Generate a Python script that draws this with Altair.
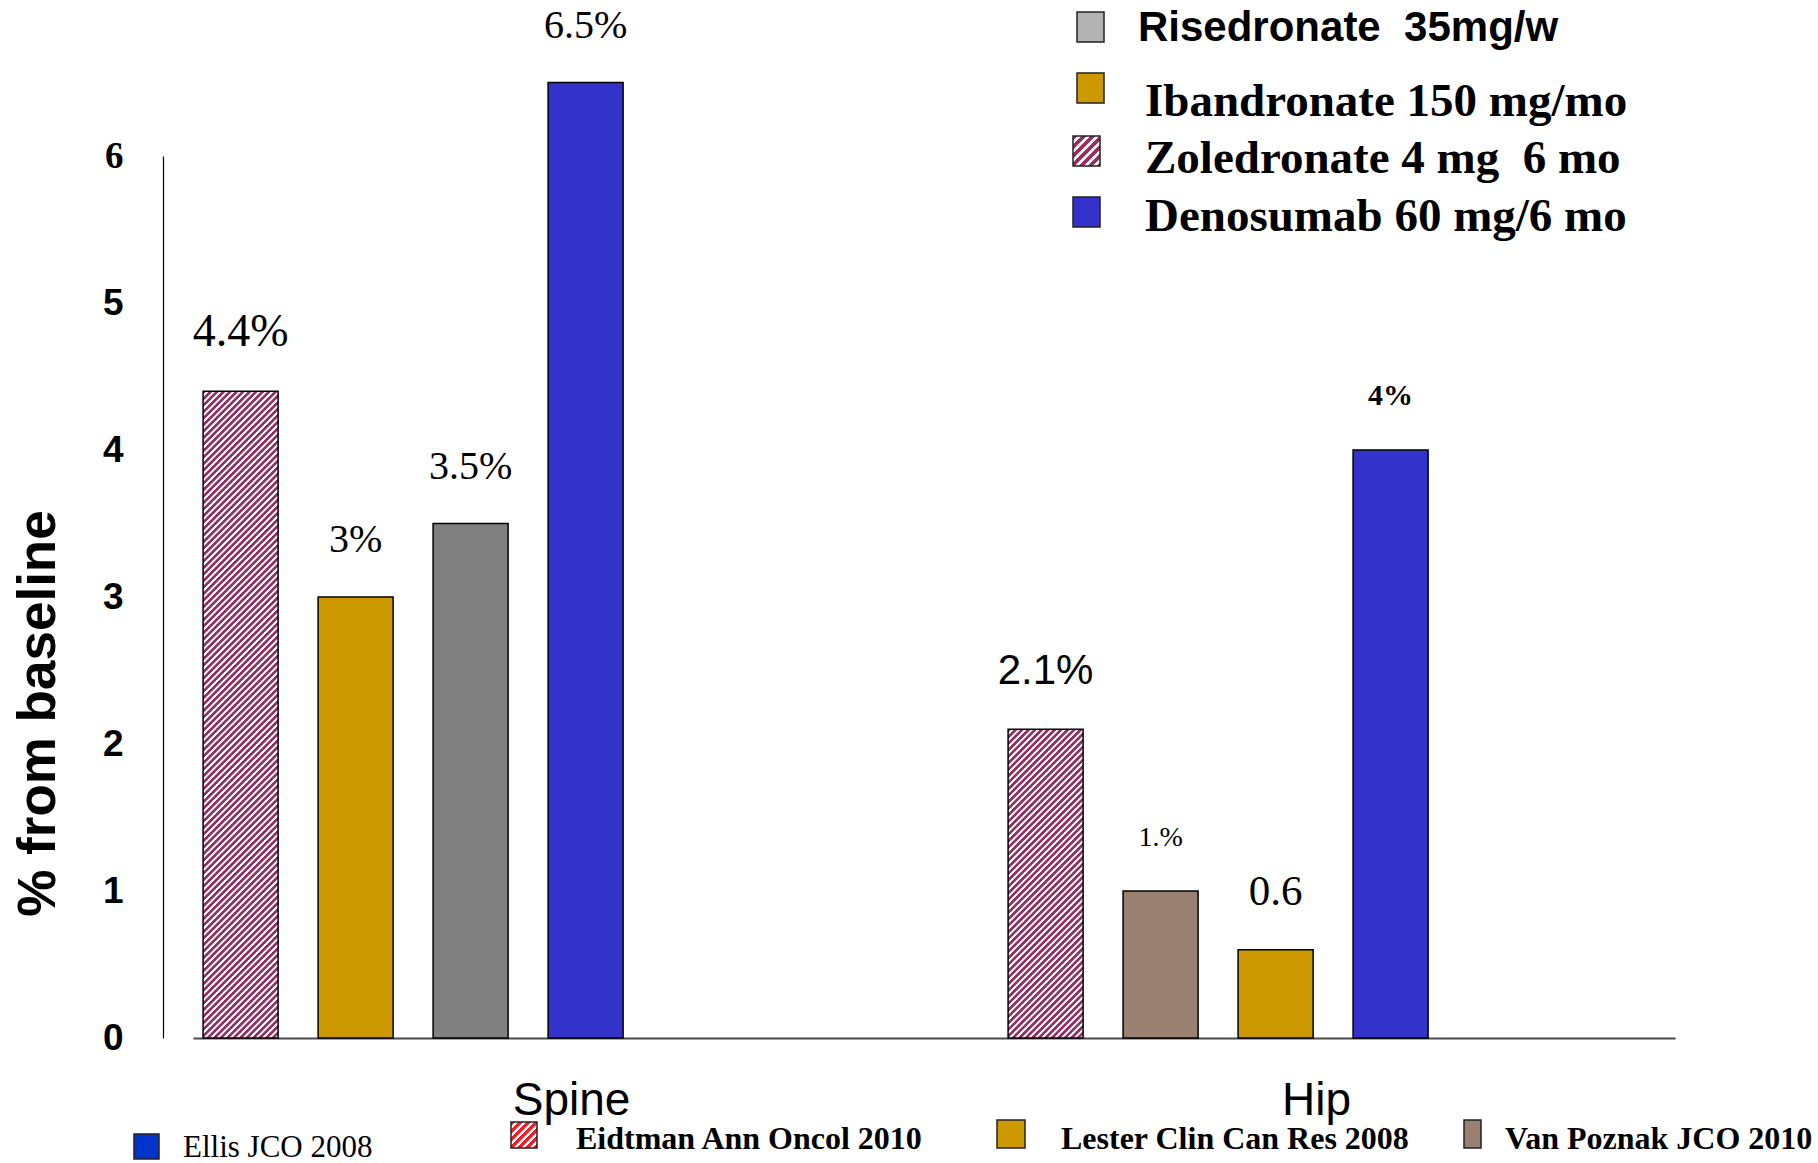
import altair as alt
import pandas as pd

# ---- data -----------------------------------------------------------------
GROUPS = ["Spine", "Spine", "Spine", "Spine", "Hip", "Hip", "Hip", "Hip"]
DRUGS = ["Zoledronate", "Ibandronate", "Risedronate", "Denosumab",
         "Zoledronate", "Risedronate", "Ibandronate", "Denosumab"]
CHANGE = [4.4, 3.0, 3.5, 6.5, 2.1, 1.0, 0.6, 4.0]
LABELS = ["4.4%", "3%", "3.5%", "6.5%", "2.1%", "1.%", "0.6", "4%"]
Y_TICKS = [0, 1, 2, 3, 4, 5, 6]

NB = "\u00a0"  # keeps the doubled gaps in the key text
DRUG_LEGEND = ["Risedronate " + NB + "35mg/w", "Ibandronate 150 mg/mo",
               "Zoledronate 4 mg " + NB + "6 mo", "Denosumab 60 mg/6 mo"]
STUDY_LEGEND = ["Ellis JCO 2008", "Eidtman Ann Oncol 2010",
                "Lester Clin Can Res 2008", "Van Poznak JCO 2010"]

# ---- styling ----------------------------------------------------------------
SERIF = "Liberation Serif"
SANS = "Liberation Sans"
PLOT_W, PLOT_H = 1482, 882
LEFT, TOP = 193, 156
PX_PER_UNIT = PLOT_H / 6
BAR_W = 75

HATCH_DARK = "#943064"
BAR_FILL = {
    ("Spine", "Ibandronate"): "#CC9900",
    ("Spine", "Risedronate"): "#808080",
    ("Spine", "Denosumab"): "#3333CC",
    ("Hip", "Risedronate"): "#998070",
    ("Hip", "Ibandronate"): "#CC9900",
    ("Hip", "Denosumab"): "#3333CC",
}


def stripes(w, h, period, dark, light="#ffffff"):
    """Linear gradient that paints '/' diagonal stripes over a w x h box."""
    span = w + h
    s = (w + h) / (h + w * w / h)
    # one period: dark band, soft edge, light band, soft edge
    pattern = [(0.0, dark), (0.46, dark), (0.58, light), (0.88, light)]
    stops = []
    k = 0
    done = False
    while not done:
        for frac, col in pattern:
            off = (k + frac) * period / span
            if off >= 1.0:
                stops.append({"offset": 1.0, "color": col})
                done = True
                break
            stops.append({"offset": round(off, 5), "color": col})
        k += 1
    return {"gradient": "linear", "x1": 0, "y1": 0,
            "x2": s * w / h, "y2": s, "stops": stops}


slots = [f"{g} {d}" for g, d in zip(GROUPS, DRUGS)]
df = pd.DataFrame({
    "slot": slots,
    "group": GROUPS,
    "drug": DRUGS,
    "change": CHANGE,
    "label": LABELS,
    "fill": [BAR_FILL.get((g, d), "none") for g, d in zip(GROUPS, DRUGS)],
})

# bars of each site share a band scale; empty bands separate the sites
# and leave room on the right
SLOT_DOMAIN = slots[:4] + ["gap 1", "gap 2", "gap 3"] + slots[4:] + ["end 1", "end 2"]

x_enc = alt.X(
    "slot:N",
    scale=alt.Scale(domain=SLOT_DOMAIN, paddingInner=0.3478,
                    paddingOuter=0.1174, align=0.374),
    axis=alt.Axis(labels=False, ticks=False, title=None, grid=False,
                  domainColor="#4a4a4a", domainWidth=2),
)
y_enc = alt.Y(
    "change:Q",
    scale=alt.Scale(domain=[0, 6], nice=False, zero=True),
    axis=alt.Axis(
        values=Y_TICKS, format="d", ticks=False, tickSize=0, grid=False,
        domainColor="black", domainWidth=1.2, offset=30,
        labelFont={"condition": {"test": "datum.value === 6", "value": SERIF},
                   "value": SANS},
        labelFontSize=37, labelFontWeight="bold", labelColor="black",
        labelPadding=40,
        title="% from baseline", titleFont=SANS, titleFontSize=53,
        titleFontWeight="bold", titleColor="black",
        titleAngle=270, titleX=-125, titleY=557,
        titleBaseline="middle", titleAlign="center",
    ),
)

base = alt.Chart(df)

solid_bars = base.transform_filter(alt.datum.fill != "none").mark_bar(
    stroke="black", strokeWidth=1.5
).encode(x=x_enc, y=y_enc, fill=alt.Fill("fill:N", scale=None))

layers = [solid_bars]

# zoledronate bars carry a diagonal hatch
for slot, val, fill in zip(df["slot"], df["change"], df["fill"]):
    if fill != "none":
        continue
    h = val * PX_PER_UNIT
    layers.append(
        base.transform_filter(alt.datum.slot == slot).mark_bar(
            fill=stripes(BAR_W, h, 6.5, HATCH_DARK), stroke="black", strokeWidth=1.5
        ).encode(x=x_enc, y=y_enc)
    )


def value_labels(which, **style):
    return base.transform_filter(
        alt.FieldOneOfPredicate(field="label", oneOf=which)
    ).mark_text(baseline="alphabetic", align="center", dy=-45,
                color="black", **style).encode(x=x_enc, y=y_enc, text="label:N")


layers += [
    value_labels(["4.4%"], font=SERIF, fontSize=46),
    value_labels(["3%", "3.5%", "6.5%"], font=SERIF, fontSize=40),
    value_labels(["0.6"], font=SERIF, fontSize=43),
    value_labels(["1.%"], font=SERIF, fontSize=28),
    value_labels(["2.1%"], font=SANS, fontSize=42),
    value_labels(["4%"], font=SERIF, fontSize=30, fontWeight="bold"),
]

# site names under the axis
for name, slot, dx in [("Spine", slots[3], -14), ("Hip", slots[6], 41)]:
    layers.append(
        alt.Chart(pd.DataFrame({"slot": [slot], "name": [name]})).mark_text(
            font=SANS, fontSize=46, color="black", baseline="alphabetic",
            align="center", dx=dx
        ).encode(x=x_enc, y=alt.value(1115 - TOP), text="name:N")
    )


def swatch(x0, y0, x1, y1, fill, stroke="#222222"):
    return alt.Chart(pd.DataFrame({"k": [0]})).mark_rect(
        fill=fill, stroke=stroke, strokeWidth=1.5
    ).encode(x=alt.value(x0 - LEFT), x2=alt.value(x1 - LEFT),
             y=alt.value(y0 - TOP), y2=alt.value(y1 - TOP))


def legend_text(text, x, y, font, size, weight="normal"):
    return alt.Chart(pd.DataFrame({"t": [text]})).mark_text(
        font=font, fontSize=size, fontWeight=weight, color="black",
        align="left", baseline="middle"
    ).encode(x=alt.value(x - LEFT), y=alt.value(y - TOP), text="t:N")


# drug key, upper right
drug_swatch = ["#B3B3B3", "#CC9900", "hatch", "#3333CC"]
drug_sw_x = [1077, 1077, 1073, 1073]
drug_sw_y = [27, 88, 151, 212]
drug_txt_x = [1138, 1145, 1145, 1145]
drug_txt_y = [28, 102, 159, 217]
for i, text in enumerate(DRUG_LEGEND):
    fill = drug_swatch[i]
    if fill == "hatch":
        fill = stripes(27, 30, 9, HATCH_DARK)
    layers.append(swatch(drug_sw_x[i], drug_sw_y[i] - 15,
                         drug_sw_x[i] + 27, drug_sw_y[i] + 15, fill))
    if i == 0:
        layers.append(legend_text(text, drug_txt_x[i], drug_txt_y[i], SANS, 42, "bold"))
    else:
        layers.append(legend_text(text, drug_txt_x[i], drug_txt_y[i], SERIF, 47, "bold"))

# study key, along the bottom
study_swatch = ["#0033CC", "hatch-red", "#CC9900", "#998070"]
study_sw = [(134, 1134, 159, 1159), (511, 1122, 537, 1148),
            (997, 1120, 1025, 1148), (1464, 1120, 1481, 1148)]
study_txt = [(183, 1148), (576, 1139), (1061, 1139), (1505, 1139)]
for i, text in enumerate(STUDY_LEGEND):
    fill = study_swatch[i]
    if fill == "hatch-red":
        fill = stripes(26, 26, 8, "#E8202A")
    x0, y0, x1, y1 = study_sw[i]
    layers.append(swatch(x0, y0, x1, y1, fill))
    tx, ty = study_txt[i]
    if i == 0:
        layers.append(legend_text(text, tx, ty, SERIF, 31))
    else:
        layers.append(legend_text(text, tx, ty, SERIF, 32, "bold"))

chart = alt.layer(*layers).properties(
    width=PLOT_W,
    height=PLOT_H,
    padding={"left": LEFT, "top": TOP,
             "right": 1818 - LEFT - PLOT_W, "bottom": 1163 - TOP - PLOT_H},
    autosize=alt.AutoSizeParams(type="none"),
    background="white",
).configure_view(stroke=None)

chart.save("out.html", embed_options={"renderer": "svg", "actions": False})
